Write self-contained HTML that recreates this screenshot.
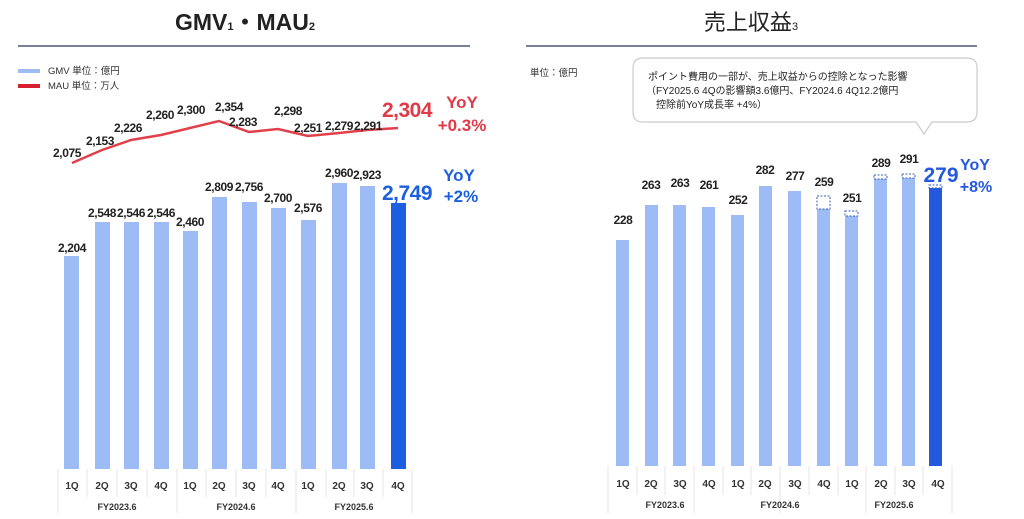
<!DOCTYPE html>
<html><head><meta charset="utf-8"><style>
html,body{margin:0;padding:0;background:#fff;}
svg{display:block;font-family:"Liberation Sans","Noto Sans CJK JP",sans-serif;}
.v{font-weight:bold;font-size:12px;letter-spacing:-0.4px;fill:#222;text-anchor:middle;}
.q{font-size:10px;fill:#333;text-anchor:middle;font-weight:bold;}
</style></head><body>
<svg width="1024" height="519" viewBox="0 0 1024 519">
<text x="245" y="30" font-size="23" font-weight="bold" fill="#222" text-anchor="middle">GMV<tspan font-size="11">1</tspan>・MAU<tspan font-size="11">2</tspan></text>
<line x1="18" y1="46" x2="470" y2="46" stroke="#4a5a70" stroke-width="1.5"/>
<text x="751" y="30" font-size="22" fill="#222" text-anchor="middle">売上収益<tspan font-size="11">3</tspan></text>
<line x1="526" y1="46" x2="977" y2="46" stroke="#4a5a70" stroke-width="1.5"/>

<rect x="18" y="69" width="22" height="4" fill="#9dbcf5"/>
<text x="48" y="74" font-size="9.5" fill="#333">GMV 単位：億円</text>
<rect x="18" y="84" width="22" height="4" fill="#d62030"/>
<text x="48" y="89" font-size="9.5" fill="#333">MAU 単位：万人</text>

<g fill="#9dbcf5">
<rect x="64" y="256" width="15" height="213"/>
<rect x="95" y="222" width="15" height="247"/>
<rect x="124" y="222" width="15" height="247"/>
<rect x="154" y="222" width="15" height="247"/>
<rect x="183" y="231" width="15" height="238"/>
<rect x="212" y="197" width="15" height="272"/>
<rect x="242" y="202" width="15" height="267"/>
<rect x="271" y="208" width="15" height="261"/>
<rect x="301" y="220" width="15" height="249"/>
<rect x="332" y="183" width="15" height="286"/>
<rect x="360" y="186" width="15" height="283"/>
</g>
<rect x="391" y="203" width="15" height="266" fill="#1b5fe0"/>
<g class="v">
<text x="72" y="252">2,204</text><text x="102" y="217">2,548</text><text x="131" y="217">2,546</text><text x="161" y="217">2,546</text><text x="190" y="226">2,460</text><text x="219" y="191">2,809</text><text x="249" y="191">2,756</text><text x="278" y="202">2,700</text><text x="308" y="212">2,576</text><text x="339" y="177">2,960</text><text x="367" y="179">2,923</text>
</g>
<text x="407" y="200" font-size="21" font-weight="bold" fill="#1b5fe0" text-anchor="middle" letter-spacing="-0.5">2,749</text>
<text x="459" y="181" font-size="17" font-weight="bold" fill="#1b5fe0" text-anchor="middle">YoY</text>
<text x="461" y="202" font-size="17" font-weight="bold" fill="#1b5fe0" text-anchor="middle">+2%</text>

<polyline points="72,163 102,150 131,140 161,135 190,128 219,121 249,132 278,129 308,136 339,133 367,130 398,128" fill="none" stroke="#e0404a" stroke-width="2.5"/>
<g class="v">
<text x="67" y="157">2,075</text><text x="100" y="145">2,153</text><text x="128" y="132">2,226</text><text x="160" y="119">2,260</text><text x="191" y="114">2,300</text><text x="229" y="111">2,354</text><text x="243" y="126">2,283</text><text x="288" y="115">2,298</text><text x="308" y="132">2,251</text><text x="339" y="130">2,279</text><text x="368" y="130">2,291</text>
</g>
<text x="407" y="117" font-size="21" font-weight="bold" fill="#e03a48" text-anchor="middle" letter-spacing="-0.5">2,304</text>
<text x="462" y="108" font-size="17" font-weight="bold" fill="#e03a48" text-anchor="middle">YoY</text>
<text x="462" y="131" font-size="17" font-weight="bold" fill="#e03a48" text-anchor="middle">+0.3%</text>

<g stroke="#e4e4e4" stroke-width="1" fill="none">
<line x1="58" y1="469" x2="58" y2="513"/><line x1="177" y1="469" x2="177" y2="513"/><line x1="296" y1="469" x2="296" y2="513"/><line x1="412" y1="469" x2="412" y2="513"/>
<line x1="87" y1="469" x2="87" y2="497"/><line x1="117" y1="469" x2="117" y2="497"/><line x1="147" y1="469" x2="147" y2="497"/><line x1="206" y1="469" x2="206" y2="497"/><line x1="236" y1="469" x2="236" y2="497"/><line x1="266" y1="469" x2="266" y2="497"/><line x1="326" y1="469" x2="326" y2="497"/><line x1="354" y1="469" x2="354" y2="497"/><line x1="383" y1="469" x2="383" y2="497"/>
</g>
<g class="q">
<text x="72" y="489">1Q</text><text x="102" y="489">2Q</text><text x="131" y="489">3Q</text><text x="161" y="489">4Q</text><text x="190" y="489">1Q</text><text x="219" y="489">2Q</text><text x="249" y="489">3Q</text><text x="278" y="489">4Q</text><text x="308" y="489">1Q</text><text x="339" y="489">2Q</text><text x="367" y="489">3Q</text><text x="398" y="489">4Q</text>
<text x="117" y="510" font-size="9">FY2023.6</text><text x="236" y="510" font-size="9">FY2024.6</text><text x="354" y="510" font-size="9">FY2025.6</text>
</g>

<text x="530" y="76" font-size="9.5" fill="#333">単位：億円</text>
<path d="M643,58 H967 Q977,58 977,68 V112 Q977,122 967,122 H932 L924,134 L916,122 H643 Q633,122 633,112 V68 Q633,58 643,58 Z" fill="#fff" stroke="#ccc" stroke-width="1.2"/>
<text x="648" y="80" font-size="10" fill="#222">ポイント費用の一部が、売上収益からの控除となった影響</text>
<text x="646" y="94" font-size="10" fill="#222">（FY2025.6 4Qの影響額3.6億円、FY2024.6 4Q12.2億円</text>
<text x="656" y="108" font-size="10" fill="#222">控除前YoY成長率 +4%）</text>

<g fill="#9dbcf5">
<rect x="616" y="240" width="13" height="226"/>
<rect x="645" y="205" width="13" height="261"/>
<rect x="673" y="205" width="13" height="261"/>
<rect x="702" y="207" width="13" height="259"/>
<rect x="731" y="215" width="13" height="251"/>
<rect x="759" y="186" width="13" height="280"/>
<rect x="788" y="191" width="13" height="275"/>
<rect x="817" y="209" width="13" height="257"/>
<rect x="845" y="216" width="13" height="250"/>
<rect x="874" y="179" width="13" height="287"/>
<rect x="902" y="178" width="13" height="288"/>
</g>
<rect x="929" y="188" width="13" height="278" fill="#2459de"/>
<g fill="#fff" stroke="#3a5fb0" stroke-width="1" stroke-dasharray="2,1.5">
<rect x="817" y="196" width="13" height="13"/>
<rect x="845" y="211" width="13" height="5"/>
<rect x="874" y="175" width="13" height="4"/>
<rect x="902" y="174" width="13" height="4"/>
<rect x="929" y="185" width="13" height="3"/>
</g>
<g class="v">
<text x="623" y="224">228</text><text x="651" y="189">263</text><text x="680" y="187">263</text><text x="709" y="189">261</text><text x="738" y="204">252</text><text x="765" y="174">282</text><text x="795" y="180">277</text><text x="824" y="186">259</text><text x="852" y="202">251</text><text x="881" y="167">289</text><text x="909" y="163">291</text>
</g>
<text x="941" y="182" font-size="21" font-weight="bold" fill="#2459de" text-anchor="middle">279</text>
<text x="975" y="170" font-size="16" font-weight="bold" fill="#2459de" text-anchor="middle">YoY</text>
<text x="976" y="192" font-size="16" font-weight="bold" fill="#2459de" text-anchor="middle">+8%</text>

<g stroke="#e4e4e4" stroke-width="1" fill="none">
<line x1="608" y1="466" x2="608" y2="513"/><line x1="694" y1="466" x2="694" y2="513"/><line x1="780" y1="466" x2="780" y2="513"/><line x1="952" y1="466" x2="952" y2="513"/><line x1="866" y1="466" x2="866" y2="513"/>
<line x1="637" y1="466" x2="637" y2="495"/><line x1="665" y1="466" x2="665" y2="495"/><line x1="723" y1="466" x2="723" y2="495"/><line x1="751" y1="466" x2="751" y2="495"/><line x1="809" y1="466" x2="809" y2="495"/><line x1="838" y1="466" x2="838" y2="495"/><line x1="895" y1="466" x2="895" y2="495"/><line x1="923" y1="466" x2="923" y2="495"/>
</g>
<g class="q">
<text x="623" y="487">1Q</text><text x="651" y="487">2Q</text><text x="680" y="487">3Q</text><text x="709" y="487">4Q</text><text x="738" y="487">1Q</text><text x="765" y="487">2Q</text><text x="795" y="487">3Q</text><text x="824" y="487">4Q</text><text x="852" y="487">1Q</text><text x="881" y="487">2Q</text><text x="909" y="487">3Q</text><text x="938" y="487">4Q</text>
<text x="665" y="508" font-size="9">FY2023.6</text><text x="780" y="508" font-size="9">FY2024.6</text><text x="894" y="508" font-size="9">FY2025.6</text>
</g>
</svg>
</body></html>
